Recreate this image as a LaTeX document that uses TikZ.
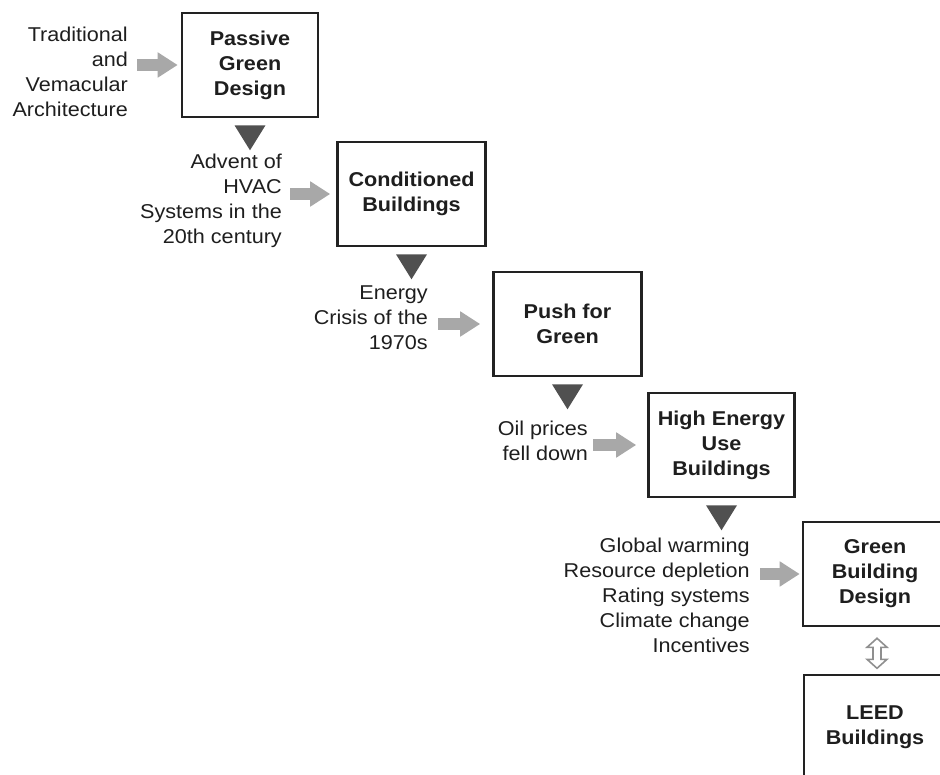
\documentclass[tikz,border=0pt]{standalone}
\usepackage{fontspec}
\setmainfont[FakeStretch=1.08]{Liberation Sans}
\usetikzlibrary{arrows.meta}
\definecolor{boxline}{HTML}{222222}
\definecolor{feedgray}{HTML}{A8A8A8}
\definecolor{dropgray}{HTML}{505050}
\definecolor{txt}{HTML}{1E1E1E}

\begin{document}
\begin{tikzpicture}[x=1pt,y=-1pt,
    stage/.style={draw=boxline,line width=2.6pt,inner sep=0pt,align=center,
        minimum height=104pt,font=\fontsize{20}{25}\selectfont\bfseries,text=txt},
    cause/.style={anchor=east,inner sep=0pt,align=right,
        font=\fontsize{20}{25}\selectfont,text=txt},
    feed/.style={feedgray,line width=12pt,-{Triangle[length=20pt,width=24pt]}},
    drop/.style={fill=dropgray},
    swap/.style={draw=feedgray!85!black,line width=1.6pt,fill=white}]
    \clip (0,0) rectangle (940,775);

    % Riquadri delle fasi
    \node[stage,minimum width=136pt] (pgd) at (250,65) {Passive\\Green\\Design};
    \node[stage,minimum width=148pt] (cb) at (411.5,194) {Conditioned\\Buildings};
    \node[stage,minimum width=148pt] (pfg) at (567.5,324) {Push for\\Green};
    \node[stage,minimum width=146pt] (heub) at (721.5,445) {High Energy\\Use\\Buildings};
    \node[stage,minimum width=144pt] (gbd) at (875,574) {Green\\Building\\Design};
    \node[stage,minimum width=142pt] (leed) at (875,727) {LEED\\Buildings};

    % Cause a sinistra
    \node[cause] (trad) at (128,72) {Traditional\\and\\Vemacular\\Architecture};
    \node[cause] (hvac) at (282,201) {Advent of\\HVAC\\Systems in the\\20th century};
    \node[cause] (crisis) at (428,318) {Energy\\Crisis of the\\1970s};
    \node[cause] (oil) at (588,441) {Oil prices\\fell down};
    \node[cause] (drivers) at (750,595) {Global warming\\Resource depletion\\Rating systems\\Climate change\\Incentives};

    % Frecce grigie verso i riquadri
    \foreach \src/\dst/\a/\b in {trad/pgd/9/3, hvac/cb/8/6, crisis/pfg/10/12,
                                 oil/heub/5/11, drivers/gbd/10/2}
        \draw[feed] (\src.east |- \dst.west) ++(\a,0) -- ([xshift=-\b]\dst.west);

    % Triangoli tra le fasi
    \foreach \stg in {pgd,cb,pfg,heub}
        \fill[drop] ([yshift=-7]\stg.south) ++(-15.5,0) -- ++(31,0) -- ++(-15.5,25) -- cycle;

    % Doppia freccia verso LEED
    \draw[swap] ([xshift=2,yshift=-11]gbd.south) -- ++(10,9) -- ++(-6,0) -- ++(0,12)
        -- ++(6,0) -- ++(-10,9) -- ++(-10,-9) -- ++(6,0) -- ++(0,-12) -- ++(-6,0) -- cycle;

\end{tikzpicture}
\end{document}
